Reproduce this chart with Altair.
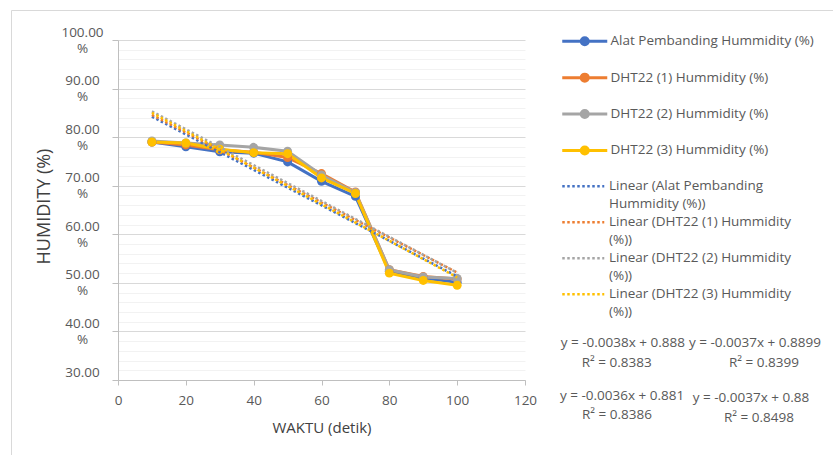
import altair as alt
import pandas as pd

# ---- data ----
waktu = [10, 20, 30, 40, 50, 60, 70, 80, 90, 100]
series_names = [
    "Alat Pembanding Hummidity (%)",
    "DHT22 (1) Hummidity (%)",
    "DHT22 (2) Hummidity (%)",
    "DHT22 (3) Hummidity (%)",
]
alat_pembanding = [79.0, 78.0, 77.0, 76.7, 74.9, 70.9, 67.8, 52.4, 51.0, 50.1]
dht22_1 = [79.0, 78.4, 77.4, 76.9, 75.8, 72.5, 68.7, 52.7, 51.3, 50.8]
dht22_2 = [79.2, 78.8, 78.4, 77.9, 77.1, 72.2, 68.6, 52.7, 51.2, 50.9]
dht22_3 = [79.0, 78.8, 77.5, 76.8, 76.6, 71.6, 68.4, 52.0, 50.5, 49.5]
series_colors = ["#4472C4", "#ED7D31", "#A5A5A5", "#FFC000"]
x_ticks = [0, 20, 40, 60, 80, 100, 120]
y_values = list(range(30, 101, 2))
eq_lines = [
    "y = -0.0038x + 0.888", "R² = 0.8383",
    "y = -0.0037x + 0.8899", "R² = 0.8399",
    "y = -0.0036x + 0.881", "R² = 0.8386",
    "y = -0.0037x + 0.88", "R² = 0.8498",
]

rows = []
for name, vals in zip(series_names, [alat_pembanding, dht22_1, dht22_2, dht22_3]):
    for t, v in zip(waktu, vals):
        rows.append({"waktu": t, "hum": v, "series": name})
df = pd.DataFrame(rows)
trend_names = ["Linear (" + s + ")" for s in series_names]

FONT = "Open Sans"
FS = 13.5
GREY = "#595959"
DARK = "#404040"

major = "datum.value % 10 === 0"

x_enc = alt.X(
    "waktu:Q",
    scale=alt.Scale(domain=[0, 120], nice=False, zero=False),
    axis=alt.Axis(
        values=x_ticks, grid=False, domainColor="#bfbfbf", tickColor="#bfbfbf",
        tickSize=5, labelPadding=8, labelFont=FONT, labelFontSize=FS, labelColor=GREY,
        labelFlush=False, labelOverlap=False,
        title="WAKTU (detik)", titleFont=FONT, titleFontSize=15, titleColor=DARK,
        titleFontWeight="normal", titleY=47, titleBaseline="middle",
    ),
)
y_enc = alt.Y(
    "hum:Q",
    scale=alt.Scale(domain=[30, 100], nice=False, zero=False),
    axis=alt.Axis(
        values=y_values,
        labelExpr="datum.value % 10 === 0 ? [format(datum.value, '.2f'), datum.value === 30 ? '' : '%'] : ''",
        labelAlign="center", labelBaseline="middle", labelPadding=30, labelLineHeight=16,
        labelOffset=-8,
        labelFont=FONT, labelFontSize=FS, labelColor=GREY, labelOverlap=False, labelFlush=False,
        gridColor={"condition": {"test": major, "value": "#d9d9d9"}, "value": "#f2f2f2"},
        tickColor={"condition": {"test": major, "value": "#bfbfbf"}, "value": "rgba(0,0,0,0)"},
        tickSize=6, domainColor="#bfbfbf",
        title="HUMIDITY (%)", titleFont=FONT, titleFontSize=18, titleColor=DARK,
        titleFontWeight="normal", titleX=-74, titleY=166, titleAngle=270,
        titleAlign="center", titleBaseline="middle",
    ),
)

PATH1 = ("M-4.5,0H4.5"
         "M-0.7,0A0.7,0.7,0,1,1,0.7,0A0.7,0.7,0,1,1,-0.7,0Z"
         "M-0.2,0A0.2,0.2,0,1,1,0.2,0A0.2,0.2,0,1,1,-0.2,0Z")
legend1 = alt.Legend(
    title=None, orient="none", legendX=460, legendY=-5.5, padding=0,
    symbolType=PATH1, symbolSize=100, symbolStrokeWidth=3,
    labelFont=FONT, labelFontSize=FS, labelColor=GREY, labelOffset=19,
    rowPadding=16.4, labelLimit=400,
)
legend2 = alt.Legend(
    title=None, orient="none", legendX=460, legendY=139.5, padding=0,
    symbolType="M-4.2,0H4.2", symbolSize=100, symbolStrokeWidth=2.5,
    symbolDash=[2.5, 2.5], symbolOffset=-1.5,
    labelFont=FONT, labelFontSize=FS, labelColor=GREY, labelOffset=19,
    rowPadding=3, labelLimit=400,
    labelExpr="indexof(datum.label, 'Alat') >= 0 ? ['Linear (Alat Pembanding', 'Hummidity (%))'] : [slice(datum.label, 0, -4), '(%))']",
)

color1 = alt.Color("series:N", scale=alt.Scale(domain=series_names, range=series_colors), legend=legend1)
color2 = alt.Color("trend:N", scale=alt.Scale(domain=trend_names, range=series_colors), legend=legend2)

border = alt.Chart(alt.Data(values=[{"a": 1}])).mark_rect(
    fill="white", fillOpacity=0, stroke="#d9d9d9", strokeWidth=1
).encode(x=alt.value(-106.5), y=alt.value(-29.5), x2=alt.value(800), y2=alt.value(500))

base = alt.Chart(df)
lines = base.mark_line(strokeWidth=3).encode(x=x_enc, y=y_enc, color=color1)
points = base.mark_point(filled=True, size=80, opacity=1).encode(x=x_enc, y=y_enc, color=color1)
data_layer = alt.layer(lines, points)
trend = (
    base.transform_regression("waktu", "hum", groupby=["series"], extent=[10, 100])
    .transform_calculate(trend="'Linear (' + datum.series + ')'")
    .mark_line(strokeWidth=2.5, strokeDash=[2.5, 2.5])
    .encode(x=x_enc, y=y_enc, color=color2)
)

eq_pos = [(442.7, 302.7), (463.7, 322.7), (571, 302.7), (611, 322.7),
          (442, 356), (464, 375), (574.7, 358), (606, 378)]
eq_layers = []
for txt, (px, py) in zip(eq_lines, eq_pos):
    eq_layers.append(
        alt.Chart(alt.Data(values=[{"a": 1}])).mark_text(
            align="left", baseline="middle", font=FONT, fontSize=FS, color=GREY
        ).encode(x=alt.value(px), y=alt.value(py), text=alt.value(txt))
    )

chart = alt.layer(border, data_layer, trend, *eq_layers).resolve_scale(
    color="independent"
).properties(
    width=407, height=340,
    autosize=alt.AutoSizeParams(type="none"),
    padding={"left": 118, "top": 40, "right": 308, "bottom": 75},
).configure(
    background="white",
    view=alt.ViewConfig(stroke="transparent"),
    style={"guide-label": {"lineHeight": 18}},
)

chart.save("out.html", embed_options={"renderer": "svg", "actions": False})
